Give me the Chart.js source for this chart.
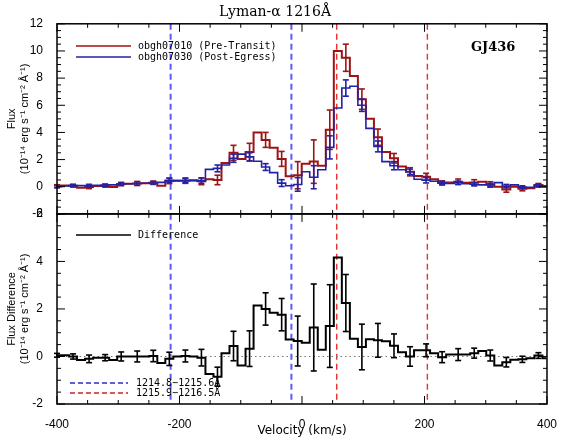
<!DOCTYPE html>
<html>
<head>
<meta charset="utf-8">
<title>Lyman-alpha 1216</title>
<script src="https://cdn.jsdelivr.net/npm/chart.js@4.4.0/dist/chart.umd.min.js"></script>
<style>
  body { margin: 0; background: #fff; }
  #chart-container { width: 562px; height: 441px; }
</style>
</head>
<body>
<div id="chart-container"><canvas id="lya" width="562" height="441"></canvas></div>
<script>
// bin centres (km/s)
const velocity = [-400, -386.9, -373.8, -360.7, -347.6, -334.5, -321.4, -308.3, -295.2, -282.1,
  -269, -255.9, -242.8, -229.7, -216.6, -203.5, -190.4, -177.3, -164.2, -151.1,
  -138, -124.9, -111.8, -98.7, -85.6, -72.5, -59.4, -46.3, -33.2, -20.1,
  -7, 6.1, 19.2, 32.3, 45.4, 58.5, 71.6, 84.7, 97.8, 110.9,
  124, 137.1, 150.2, 163.3, 176.4, 189.5, 202.6, 215.7, 228.8, 241.9,
  255, 268.1, 281.2, 294.3, 307.4, 320.5, 333.6, 346.7, 359.8, 372.9,
  386, 399.1];

// obgh07010 (Pre-Transit)
const preTransit = [0.05, 0.1, 0.08, -0.07, -0.02, 0.05, 0.07, -0.01, 0.2, 0.22,
  0.24, 0.26, 0.3, 0.07, 0.43, 0.45, 0.45, 0.47, 0.4, 0.55,
  0.5, 1.75, 2.5, 2.05, 2.55, 4.0, 3.45, 2.88, 2.05, 0.77,
  0.85, 1.7, 1.85, 1.55, 4.2, 10.0, 9.5, 8.15, 6.45, 5.0,
  3.65, 2.55, 2.1, 1.5, 1.1, 0.8, 0.74, 0.55, 0.28, 0.32,
  0.37, 0.3, 0.32, 0.37, 0.17, 0.0, -0.2, 0.0, -0.15, -0.12,
  0.12, 0.0];
const preErr = [0.1, null, 0.1, null, 0.12, null, 0.1, null, 0.12, null,
  0.15, null, 0.12, null, 0.2, null, 0.2, null, 0.25, null,
  0.35, null, 0.55, null, 0.65, null, 0.55, null, 0.55, null,
  1.0, null, 1.6, null, 1.45, null, 1.0, null, 0.75, null,
  0.6, null, 0.35, null, 0.3, null, 0.25, null, 0.15, null,
  0.2, null, 0.2, null, 0.2, null, 0.2, null, 0.15, null,
  0.12, null];

// obgh07030 (Post-Egress)
const postEgress = [0.0, 0.05, 0.08, 0.08, 0.08, 0.1, 0.12, 0.14, 0.2, 0.22,
  0.24, 0.26, 0.28, 0.32, 0.48, 0.45, 0.45, 0.45, 0.45, 1.28,
  1.35, 1.6, 2.1, 2.4, 2.2, 1.88, 1.45, 1.04, 0.27, 0.07,
  0.17, 1.1, 0.7, 1.25, 2.9, 5.8, 7.27, 7.4, 6.0, 4.3,
  2.97, 1.85, 1.55, 1.25, 1.1, 0.55, 0.48, 0.4, 0.28, 0.24,
  0.29, 0.22, 0.18, 0.14, 0.13, 0.3, 0.05, 0.14, -0.03, -0.05,
  0.08, 0.07];
const postErr = [0.08, null, 0.08, null, 0.1, null, 0.08, null, 0.1, null,
  0.12, null, 0.1, null, 0.15, null, 0.15, null, 0.2, null,
  0.25, null, 0.3, null, 0.3, null, 0.25, null, 0.25, null,
  0.5, null, 0.85, null, 0.85, null, 0.6, null, 0.45, null,
  0.4, null, 0.3, null, 0.2, null, 0.2, null, 0.12, null,
  0.12, null, 0.12, null, 0.12, null, 0.12, null, 0.1, null,
  0.1, null];

// Difference
const difference = [0.05, 0.05, 0.0, -0.15, -0.1, -0.05, -0.05, -0.15, 0.0, 0.0,
  0.0, 0.0, 0.02, -0.27, -0.1, 0.0, 0.02, 0.0, -0.05, -0.74,
  -0.85, 0.14, 0.44, -0.38, 0.33, 2.14, 2.0, 1.84, 1.76, 0.71,
  0.65, 0.58, 1.22, 0.28, 1.28, 4.16, 2.25, 0.75, 0.4, 0.72,
  0.68, 0.64, 0.45, 0.18, 0.0, 0.26, 0.26, 0.14, -0.03, 0.08,
  0.08, 0.08, 0.14, 0.23, 0.04, -0.38, -0.24, -0.14, -0.12, -0.07,
  0.04, -0.07];
const diffErr = [0.08, null, 0.11, null, 0.16, null, 0.13, null, 0.19, null,
  0.23, null, 0.24, null, 0.28, null, 0.25, null, 0.35, null,
  0.4, null, 0.62, null, 0.75, null, 0.68, null, 0.68, null,
  1.05, null, 1.83, null, 1.74, null, 1.2, null, 0.96, null,
  0.71, null, 0.5, null, 0.41, null, 0.27, null, 0.23, null,
  0.25, null, 0.21, null, 0.23, null, 0.2, null, 0.13, null,
  0.12, null];

// wavelength ranges marked with dashed lines (km/s)
const blueRange = [-214.5, -17.3];
const redRange = [56.7, 204.7];

const xTicks = [-400, -200, 0, 200, 400];
const topTicks = [-2, 0, 2, 4, 6, 8, 10, 12];
const botTicks = [-2, 0, 2, 4, 6];

const RED = '#9c1414';
const BLUE = '#2222a8';
const tickFont = { family: 'Liberation Sans', size: 12 };

function points(values) {
    return velocity.map(function(v, i) { return { x: v, y: values[i] }; });
}

function line(ctx, x1, y1, x2, y2) {
    ctx.beginPath();
    ctx.moveTo(x1, y1);
    ctx.lineTo(x2, y2);
    ctx.stroke();
}

// error bars, drawn right after their own dataset
const errorBars = {
    id: 'errorBars',
    afterDatasetDraw(chart, args) {
        const ds = chart.data.datasets[args.index];
        if (!ds.errors) return;
        const ctx = chart.ctx;
        const x = chart.scales.x;
        const y = chart.scales[ds.yAxisID];
        ctx.save();
        ctx.strokeStyle = ds.borderColor;
        ctx.lineWidth = 1.6;
        ds.errors.forEach(function(e, i) {
            if (e === null) return;
            const px = x.getPixelForValue(velocity[i]);
            const lo = y.getPixelForValue(ds.data[i].y - e);
            const hi = y.getPixelForValue(ds.data[i].y + e);
            line(ctx, px, lo, px, hi);
            line(ctx, px - 3, lo, px + 3, lo);
            line(ctx, px - 3, hi, px + 3, hi);
        });
        ctx.restore();
    }
};

// dashed markers and the zero line
const markers = {
    id: 'markers',
    beforeDatasetsDraw(chart) {
        const ctx = chart.ctx;
        const x = chart.scales.x;
        const yTop = chart.scales.yTop;
        const yBot = chart.scales.yBot;
        ctx.save();
        ctx.setLineDash([6, 4]);
        ctx.lineWidth = 2;
        ctx.strokeStyle = '#5a5aff';
        blueRange.forEach(function(v) {
            const px = x.getPixelForValue(v);
            line(ctx, px, yTop.top, px, yBot.bottom);
        });
        ctx.lineWidth = 1.4;
        ctx.strokeStyle = '#e83030';
        redRange.forEach(function(v) {
            const px = x.getPixelForValue(v);
            line(ctx, px, yTop.top, px, yBot.bottom);
        });
        ctx.setLineDash([1.5, 3]);
        ctx.lineWidth = 1.2;
        ctx.strokeStyle = '#777';
        const p0 = yBot.getPixelForValue(0);
        line(ctx, x.left, p0, x.right, p0);
        ctx.restore();
    }
};

// frames, inward ticks and in-panel legends
const frames = {
    id: 'frames',
    afterDraw(chart) {
        const ctx = chart.ctx;
        const x = chart.scales.x;
        ctx.save();
        ctx.strokeStyle = '#000';
        ctx.lineWidth = 1.5;
        [chart.scales.yTop, chart.scales.yBot].forEach(function(y) {
            ctx.strokeRect(x.left, y.top, x.right - x.left, y.bottom - y.top);
            ctx.lineWidth = 1;
            for (let v = -400; v <= 400; v += 50) {
                const px = x.getPixelForValue(v);
                const len = v % 200 === 0 ? 8 : 4;
                line(ctx, px, y.bottom, px, y.bottom - len);
                line(ctx, px, y.top, px, y.top + len);
            }
            for (let v = y.min; v <= y.max + 0.01; v += 0.5) {
                const py = y.getPixelForValue(v);
                const len = v % 2 === 0 ? 8 : 4;
                line(ctx, x.left, py, x.left + len, py);
                line(ctx, x.right, py, x.right - len, py);
            }
            ctx.lineWidth = 1.5;
        });

        // legends
        ctx.font = '10px "DejaVu Sans Mono"';
        ctx.textBaseline = 'middle';
        ctx.fillStyle = '#000';
        ctx.lineWidth = 1.6;
        ctx.strokeStyle = RED;
        line(ctx, 76, 46, 131, 46);
        ctx.fillText('obgh07010 (Pre-Transit)', 138, 46);
        ctx.strokeStyle = BLUE;
        line(ctx, 76, 57, 131, 57);
        ctx.fillText('obgh07030 (Post-Egress)', 138, 57);
        ctx.strokeStyle = '#000';
        line(ctx, 76, 235, 131, 235);
        ctx.fillText('Difference', 138, 235);

        ctx.setLineDash([5, 3]);
        ctx.lineWidth = 1.4;
        ctx.strokeStyle = '#2a2ad0';
        line(ctx, 70, 383, 128, 383);
        ctx.fillText('1214.8\u22121215.6\u00c5', 136, 383);
        ctx.strokeStyle = '#d02020';
        line(ctx, 70, 393, 128, 393);
        ctx.fillText('1215.9\u22121216.5\u00c5', 136, 393);

        ctx.font = 'bold 13px "DejaVu Serif"';
        ctx.fillText('GJ436', 471, 48);
        ctx.restore();
    }
};

const chartConfig = {
    type: 'line',
    data: {
        datasets: [
            {
                label: 'obgh07030 (Post-Egress)',
                data: points(postEgress),
                errors: postErr,
                yAxisID: 'yTop',
                borderColor: BLUE,
                borderWidth: 1.6,
                stepped: 'middle',
                pointRadius: 0,
                order: 1
            },
            {
                label: 'obgh07010 (Pre-Transit)',
                data: points(preTransit),
                errors: preErr,
                yAxisID: 'yTop',
                borderColor: RED,
                borderWidth: 2,
                stepped: 'middle',
                pointRadius: 0,
                order: 2
            },
            {
                label: 'Difference',
                data: points(difference),
                errors: diffErr,
                yAxisID: 'yBot',
                borderColor: '#000',
                borderWidth: 2,
                stepped: 'middle',
                pointRadius: 0,
                order: 0
            }
        ]
    },
    options: {
        responsive: false,
        animation: false,
        layout: { padding: { left: 0, right: 12, top: 0, bottom: 0 } },
        plugins: {
            legend: { display: false },
            tooltip: { enabled: false },
            title: {
                display: true,
                text: 'Lyman-\u03b1 1216\u00c5',
                color: '#000',
                font: { family: 'DejaVu Serif', size: 14, weight: 'normal' },
                padding: { top: 4, bottom: 3 }
            }
        },
        scales: {
            x: {
                type: 'linear',
                min: -400,
                max: 400,
                grid: { display: false },
                border: { display: false },
                afterBuildTicks: function(s) { s.ticks = xTicks.map(function(v) { return { value: v }; }); },
                ticks: { color: '#000', font: tickFont, padding: 5, maxRotation: 0, autoSkip: false },
                title: {
                    display: true,
                    text: 'Velocity (km/s)',
                    color: '#000',
                    font: { family: 'DejaVu Sans', size: 12, weight: 'normal' },
                    padding: { top: 3, bottom: 3 }
                },
                afterFit: function(s) { s.height = 37; }
            },
            yBot: {
                type: 'linear',
                position: 'left',
                stack: 'panels',
                stackWeight: 1,
                min: -2,
                max: 6,
                grid: { display: false },
                border: { display: false },
                afterBuildTicks: function(s) { s.ticks = botTicks.map(function(v) { return { value: v }; }); },
                ticks: { color: '#000', font: tickFont, padding: 6, autoSkip: false },
                title: {
                    display: true,
                    text: ['Flux Difference', '(10\u207b\u00b9\u2074 erg s\u207b\u00b9 cm\u207b\u00b2 \u00c5\u207b\u00b9)'],
                    color: '#000',
                    font: { family: 'Liberation Sans', size: 11 },
                    padding: { top: 5, bottom: 0 }
                },
                afterFit: function(s) { s.width = 57; }
            },
            yTop: {
                type: 'linear',
                position: 'left',
                stack: 'panels',
                stackWeight: 1,
                min: -2,
                max: 12,
                grid: { display: false },
                border: { display: false },
                afterBuildTicks: function(s) { s.ticks = topTicks.map(function(v) { return { value: v }; }); },
                ticks: { color: '#000', font: tickFont, padding: 6, autoSkip: false },
                title: {
                    display: true,
                    text: ['Flux', '(10\u207b\u00b9\u2074 erg s\u207b\u00b9 cm\u207b\u00b2 \u00c5\u207b\u00b9)'],
                    color: '#000',
                    font: { family: 'Liberation Sans', size: 11 },
                    padding: { top: 5, bottom: 0 }
                },
                afterFit: function(s) { s.width = 57; }
            }
        }
    },
    plugins: [markers, errorBars, frames]
};

new Chart(document.getElementById('lya').getContext('2d'), chartConfig);
</script>
</body>
</html>
